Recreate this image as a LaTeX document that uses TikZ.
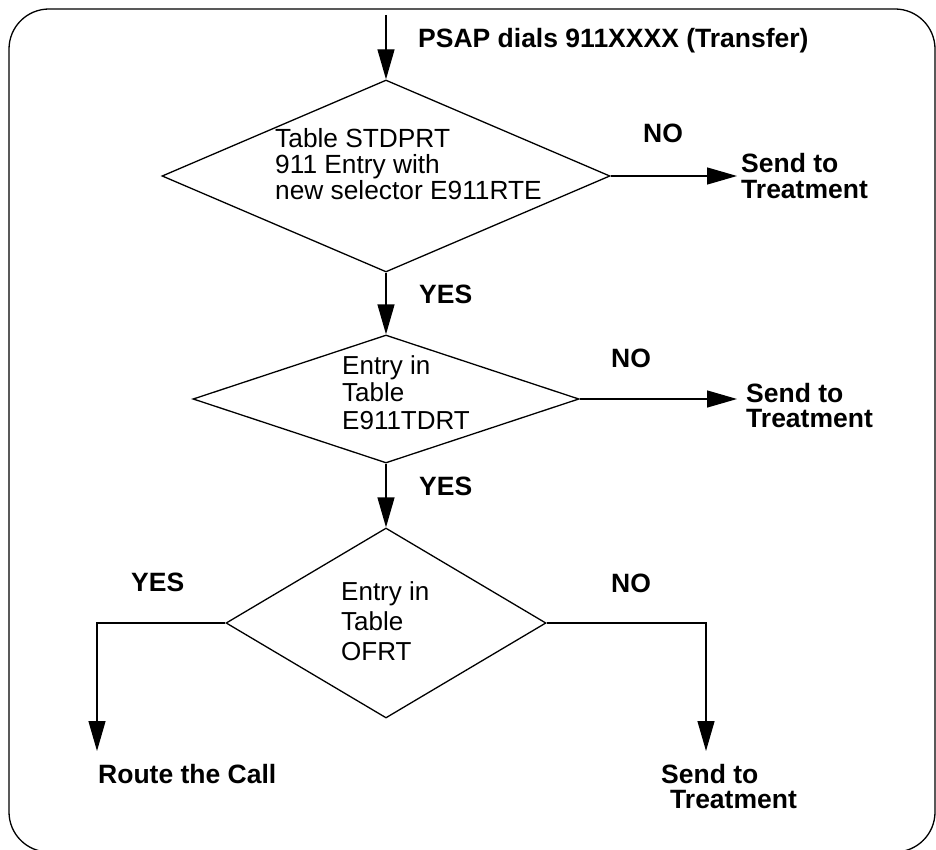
\documentclass[tikz,border=0pt]{standalone}
\usepackage{fontspec}
\setmainfont{Liberation Sans}
\usetikzlibrary{shapes.geometric,arrows.meta}
\begin{document}
\begin{tikzpicture}[x=1pt,y=-1pt,
  every node/.style={inner sep=0pt},
  dec/.style={draw, shape=diamond, line width=1.3pt, inner sep=0pt},
  lbl/.style={anchor=base west, align=left, font=\fontsize{26.5}{26}\selectfont\bfseries},
  txt/.style={anchor=base west, align=left},
  flow/.style={line width=1.3pt, -{Triangle[length=30pt,width=17pt]}},
  link/.style={line width=1.3pt},
]
\useasboundingbox (0,0) rectangle (936,850);
\draw[line width=1.3pt, rounded corners=40pt] (9,9) rectangle (935,852);

% decisions
\node[dec, minimum width=448pt, minimum height=192pt] (d1) at (386,176) {};
\node[dec, minimum width=386pt, minimum height=128pt] (d2) at (386,399) {};
\node[dec, minimum width=320pt, minimum height=190pt] (d3) at (386,623) {};

% texts inside (base anchor = last line)
\node[txt, font=\fontsize{26.3}{26}\selectfont] (t1) at (275,200) {Table STDPRT\\911 Entry with\\new selector E911RTE};
\node[txt, font=\fontsize{26}{27.5}\selectfont] (t2) at (342,429) {Entry in\\Table\\E911TDRT};
\node[txt, font=\fontsize{26}{30}\selectfont] (t3) at (341,660) {Entry in\\Table\\OFRT};

% labels
\node[lbl] (psap) at (418,47.5) {PSAP dials 911XXXX (Transfer)};
\node[lbl] (no1) at (643,143) {NO};
\node[lbl] (s1) at (741,199) {Send to\\Treatment};
\node[lbl] (yes1) at (419,303) {YES};
\node[lbl] (no2) at (611,367) {NO};
\node[lbl, font=\fontsize{26.5}{25}\selectfont\bfseries] (s2) at (746,427) {Send to\\Treatment};
\node[lbl] (yes2) at (419,495) {YES};
\node[lbl] (yes3) at (131,591) {YES};
\node[lbl] (no3) at (611,592) {NO};
\node[lbl] (route) at (98,783) {Route the Call};
\node[lbl, font=\fontsize{26.5}{25}\selectfont\bfseries] (s3) at (661,808) {Send to\\\hspace*{9pt}Treatment};

% connector ends
\coordinate (start) at (386,15);
\coordinate (e1) at (737,176);
\coordinate (e2) at (737,399);
\coordinate (e4) at (97,751);
\coordinate (e5) at (706,751);

\draw[flow] (start) -- (d1.north);
\draw[flow] (d1.east) -- (e1);
\draw[flow] (d1.south) -- (d2.north);
\draw[flow] (d2.east) -- (e2);
\draw[flow] (d2.south) -- (d3.north);
\draw[flow] (d3.west) -| (e4);
\draw[flow] (d3.east) -| (e5);
\end{tikzpicture}
\end{document}
